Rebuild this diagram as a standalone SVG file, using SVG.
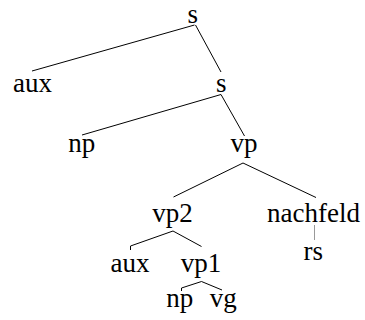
<svg xmlns="http://www.w3.org/2000/svg" width="365" height="320" viewBox="0 0 365 320">
<style>
.t{font-family:'Liberation Serif','Times New Roman',serif;font-size:27px;fill:#000;text-anchor:middle}
.e{stroke:#000;stroke-width:1;fill:none}
.g{stroke:#999;stroke-width:1;fill:none}
</style>
<rect width="365" height="320" fill="#fff"/>
<g id="edges">
<path class="e" d="M194.5,25 L32,71"/>
<path class="e" d="M195.5,25 L221,72"/>
<path class="e" d="M221,94.5 L82,135"/>
<path class="e" d="M221,94.5 L244.5,136"/>
<path class="e" d="M243,163 L173.5,197"/>
<path class="e" d="M243,163 L316,197.5"/>
<path class="e" d="M173,231 L130.5,246 V250"/>
<path class="e" d="M173,231 L201.5,246.5"/>
<path class="g" d="M314.5,225 V240"/>
<path class="e" d="M201.5,281.5 L181.5,288 V291"/>
<path class="e" d="M201.5,281.5 L222,290"/>
</g>
<g id="n_s1"><text class="t" x="192.7" y="23">s</text></g>
<g id="n_aux1"><text class="t" x="32.5" y="92">aux</text></g>
<g id="n_s2"><text class="t" x="221.3" y="92">s</text></g>
<g id="n_np1"><text class="t" x="81.7" y="152">np</text></g>
<g id="n_vp"><text class="t" x="244" y="152">vp</text></g>
<g id="n_vp2"><text class="t" x="172.5" y="221.5">vp2</text></g>
<g id="n_nachfeld"><text class="t" x="313.5" y="221.5">nachfeld</text></g>
<g id="n_aux2"><text class="t" x="130" y="271.5">aux</text></g>
<g id="n_vp1"><text class="t" x="201" y="271.5">vp1</text></g>
<g id="n_rs"><text class="t" x="313.3" y="260">rs</text></g>
<g id="n_np2"><text class="t" x="179.7" y="306.5">np</text></g>
<g id="n_vg"><text class="t" x="223.3" y="306.5">vg</text></g>
</svg>
